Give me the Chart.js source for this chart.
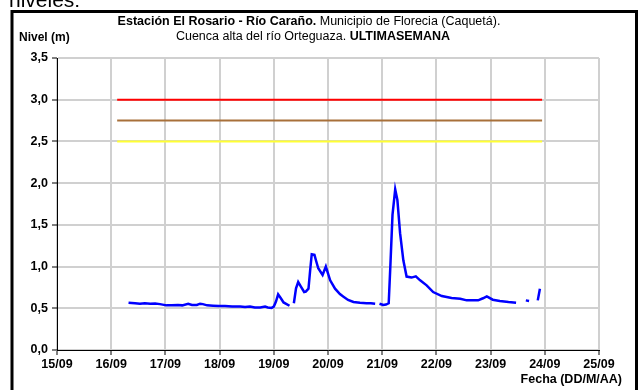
<!DOCTYPE html>
<html lang="es">
<head>
<meta charset="utf-8">
<title>Estación El Rosario - Río Caraño</title>
<script src="https://cdn.jsdelivr.net/npm/chart.js@4/dist/chart.umd.min.js"></script>
<style>
  html, body { margin: 0; padding: 0; background: #fff; }
  #grafico { display: block; }
</style>
</head>
<body>
<canvas id="grafico" width="641" height="390"></canvas>
<script>
/* ── Datos ─────────────────────────────────────────────── */

// Etiquetas del eje X (un día por marca, desde 15/09)
const etiquetasFecha = ['15/09', '16/09', '17/09', '18/09', '19/09', '20/09',
                        '21/09', '22/09', '23/09', '24/09', '25/09'];

// Tiempo en días contados desde 15/09 00:00 (null = sin registro)
const tiempoDias = [
  1.32, 1.44, 1.53, 1.62, 1.72, 1.81, 1.90, 2.02, 2.12, 2.23, 2.31, 2.42, 2.49,
  2.58, 2.64, 2.69, 2.77, 2.88, 2.99, 3.10, 3.23, 3.38, 3.47, 3.56, 3.65, 3.75,
  3.84, 3.89, 3.96, 4.00, 4.04, 4.08, 4.13, 4.18, 4.29, 4.33,
  4.37, 4.41, 4.45, 4.50, 4.56, 4.59, 4.64, 4.67, 4.70, 4.75, 4.78, 4.82, 4.90,
  4.96, 5.04, 5.13, 5.22, 5.28, 5.37, 5.47, 5.59, 5.71, 5.79, 5.87, 5.91,
  5.95, 6.02, 6.07, 6.12, 6.15, 6.19, 6.24, 6.28, 6.33, 6.39, 6.45, 6.54, 6.62,
  6.70, 6.82, 6.94, 7.10, 7.28, 7.44, 7.56, 7.77, 7.86, 7.93, 8.04, 8.17, 8.33,
  8.47, 8.56,
  8.65, 8.71, 8.79,
  8.87, 8.91
];

// Nivel del río en metros
const nivelMetros = [
  0.567, 0.560, 0.555, 0.560, 0.555, 0.558, 0.550, 0.535, 0.535, 0.540, 0.535, 0.555, 0.540,
  0.540, 0.555, 0.550, 0.535, 0.530, 0.526, 0.527, 0.520, 0.520, 0.515, 0.520, 0.510, 0.510,
  0.520, 0.510, 0.505, 0.520, 0.580, 0.667, 0.620, 0.570, 0.530, null,
  0.560, 0.740, 0.815, 0.760, 0.695, 0.700, 0.735, 0.950, 1.148, 1.140, 1.070, 0.980, 0.900,
  1.000, 0.835, 0.735, 0.670, 0.640, 0.600, 0.575, 0.565, 0.560, 0.560, 0.555, null,
  0.555, 0.540, 0.545, 0.560, 1.000, 1.620, 1.925, 1.800, 1.400, 1.075, 0.880, 0.868, 0.883,
  0.835, 0.775, 0.695, 0.647, 0.623, 0.615, 0.595, 0.595, 0.620, 0.643, 0.603, 0.587, 0.575,
  0.567, null,
  0.595, 0.588, null,
  0.595, 0.735
];

// Umbrales de alerta (m) y su tramo horizontal en días
const umbralesNivel  = [3.0, 2.75, 2.5];
const umbralesColor  = ['#ff0000', '#a8703a', '#ffff33'];
const tramoUmbral    = [1.11, 8.95];

/* ── Helpers ───────────────────────────────────────────── */

const FUENTE = '"Liberation Sans", Arial, sans-serif';

function formatoNivel(valor) {
  return valor.toFixed(1).replace('.', ',');
}

// Dibuja una línea de texto compuesta por partes en negrita y normales, centrada en x
function textoMixto(ctx, partes, xCentro, y, tam) {
  const medidas = partes.map(p => {
    ctx.font = `${p.negrita ? 'bold ' : ''}${tam}px ${FUENTE}`;
    return ctx.measureText(p.texto).width;
  });
  const total = medidas.reduce((a, b) => a + b, 0);
  let x = xCentro - total / 2;
  partes.forEach((p, i) => {
    ctx.font = `${p.negrita ? 'bold ' : ''}${tam}px ${FUENTE}`;
    ctx.fillText(p.texto, x, y);
    x += medidas[i];
  });
}

/* ── Plugins de dibujo (fondo, marco y textos) ─────────── */

const marcoYTextos = {
  id: 'marcoYTextos',
  beforeDraw(chart) {
    const ctx = chart.ctx;
    ctx.save();
    ctx.fillStyle = '#fff';
    ctx.fillRect(0, 0, chart.width, chart.height);
    ctx.restore();
  },
  afterDraw(chart) {
    const ctx = chart.ctx;
    ctx.save();

    // Texto del documento que queda por encima del marco
    ctx.fillStyle = '#000';
    ctx.textBaseline = 'alphabetic';
    ctx.font = `21px ${FUENTE}`;
    ctx.fillText('niveles:', 9, 7);

    // Marco negro del gráfico
    ctx.lineWidth = 3;
    ctx.strokeStyle = '#000';
    ctx.strokeRect(12, 11.5, 624.5, 400);

    // Título en dos líneas
    ctx.textBaseline = 'middle';
    ctx.textAlign = 'left';
    textoMixto(ctx, [
      { texto: 'Estación El Rosario - Río Caraño.', negrita: true },
      { texto: ' Municipio de Florecia (Caquetá).', negrita: false },
    ], 309, 22, 12.5);
    textoMixto(ctx, [
      { texto: 'Cuenca alta del río Orteguaza. ', negrita: false },
      { texto: 'ULTIMASEMANA', negrita: true },
    ], 313, 37, 12.5);

    // Títulos de los ejes
    ctx.font = `bold 12px ${FUENTE}`;
    ctx.fillText('Nivel (m)', 19, 38);
    ctx.textAlign = 'right';
    ctx.font = `bold 12.5px ${FUENTE}`;
    ctx.fillText('Fecha (DD/M/AA)', 622, 380);

    ctx.restore();
  },
};

/* ── Construcción del gráfico ──────────────────────────── */

const puntosNivel = tiempoDias.map((t, i) => ({ x: t, y: nivelMetros[i] }));

const datasetsUmbral = umbralesNivel.map((nivel, i) => ({
  label: `Umbral ${formatoNivel(nivel)}`,
  data: [{ x: tramoUmbral[0], y: nivel }, { x: tramoUmbral[1], y: nivel }],
  borderColor: umbralesColor[i],
  borderWidth: 2,
  pointRadius: 0,
}));

new Chart(document.getElementById('grafico'), {
  type: 'line',
  data: {
    datasets: [
      ...datasetsUmbral,
      {
        label: 'Nivel',
        data: puntosNivel,
        borderColor: '#0000ff',
        borderWidth: 2.5,
        pointRadius: 0,
        spanGaps: false,
        tension: 0,
      },
    ],
  },
  plugins: [marcoYTextos],
  options: {
    responsive: false,
    animation: false,
    layout: { padding: { top: 58, right: 42, left: 0, bottom: 0 } },
    plugins: {
      legend: { display: false },
      title: { display: false },
      tooltip: { enabled: false },
    },
    scales: {
      x: {
        type: 'linear',
        min: 0,
        max: 10,
        afterFit: s => { s.height = 40; },
        grid: { color: '#d0d0d0', lineWidth: 2, tickColor: '#000', tickWidth: 1, tickLength: 5 },
        border: { color: '#000', width: 1 },
        ticks: {
          stepSize: 1,
          padding: 2,
          maxRotation: 0,
          color: '#000',
          font: { family: FUENTE, size: 12.5, weight: 'bold' },
          callback: v => etiquetasFecha[v],
        },
      },
      y: {
        min: 0,
        max: 3.5,
        afterFit: s => { s.width = 57; },
        grid: { color: '#d0d0d0', lineWidth: 2, tickColor: '#000', tickWidth: 1, tickLength: 5 },
        border: { color: '#000', width: 1 },
        ticks: {
          stepSize: 0.5,
          padding: 4,
          color: '#000',
          font: { family: FUENTE, size: 12.5, weight: 'bold' },
          callback: formatoNivel,
        },
      },
    },
  },
});
</script>
</body>
</html>
